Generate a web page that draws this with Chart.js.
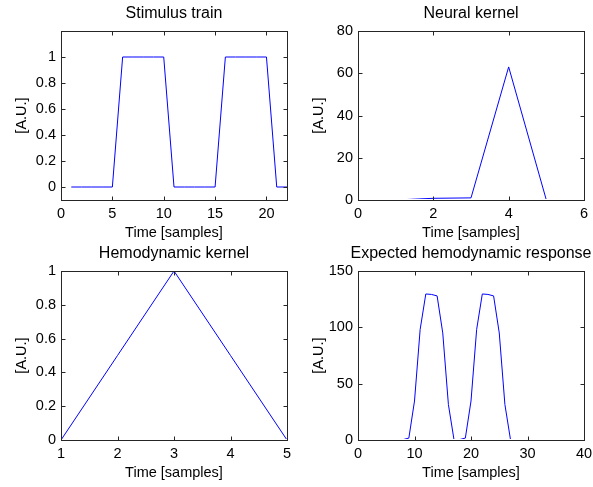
<!DOCTYPE html>
<html>
<head>
<meta charset="utf-8">
<script src="https://cdn.jsdelivr.net/npm/chart.js@4/dist/chart.umd.min.js"></script>
<style>
  html, body { margin: 0; padding: 0; background: #fff; }
  #wrap { position: relative; width: 593px; height: 487px; overflow: hidden; }
  canvas { position: absolute; }
</style>
</head>
<body>
<div id="wrap">
  <canvas id="stim" width="348" height="245" style="left:0;top:0"></canvas>
  <canvas id="neural" width="348" height="245" style="left:297px;top:0"></canvas>
  <canvas id="hemo" width="348" height="245" style="left:0;top:240px"></canvas>
  <canvas id="resp" width="348" height="245" style="left:297px;top:240px"></canvas>
</div>
<script>
// --------------------- Data ---------------------
const stimX = [1,2,3,4,5,6,7,8,9,10,11,12,13,14,15,16,17,18,19,20,21,22];
const stimY = [0,0,0,0,0,1,1,1,1,1,0,0,0,0,0,1,1,1,1,1,0,0];
const stimXTicks = [0,5,10,15,20];
const stimYTicks = [0,0.2,0.4,0.6,0.8,1];

const neuralX = [1,2,3,4,5];
const neuralY = [0,0.8,1,63,0];
const neuralXTicks = [0,2,4,6];
const neuralYTicks = [0,20,40,60,80];

const hemoX = [1,2,3,4,5];
const hemoY = [0,0.5,1,0.5,0];
const hemoXTicks = [1,2,3,4,5];
const hemoYTicks = [0,0.2,0.4,0.6,0.8,1];

const respX = [1,2,3,4,5,6,7,8,9,10,11,12,13,14,15,16,17,18,19,20,21,22,23,24,25,26,27,28,29,30];
const respY = [0,0,0,0,0,0,0,0.4,1.7,34.6,98.1,129.6,129.2,127.9,95,31.5,0,0.4,1.7,34.6,98.1,129.6,129.2,127.9,95,31.5,0,0,0,0];
const respXTicks = [0,10,20,30,40];
const respYTicks = [0,50,100,150];

// --------------------- Helpers ---------------------
const FONT = "'Liberation Sans', Arial, Helvetica, sans-serif";

// matlab-style box with inward ticks, drawn over the line
const boxPlugin = {
  id: 'matlabBox',
  afterDraw(chart) {
    const { ctx, chartArea: a, scales: { x, y } } = chart;
    const L = Math.floor(a.left) + 0.5, R = Math.floor(a.right) + 0.5;
    const T = Math.floor(a.top) + 0.5, B = Math.floor(a.bottom) + 0.5;
    ctx.save();
    ctx.strokeStyle = '#262626';
    ctx.lineWidth = 1;
    ctx.strokeRect(L, T, R - L, B - T);
    ctx.beginPath();
    x.ticks.forEach(t => {
      const px = Math.round(x.getPixelForValue(t.value)) + 0.5;
      ctx.moveTo(px, B); ctx.lineTo(px, B - 4);
      ctx.moveTo(px, T); ctx.lineTo(px, T + 4);
    });
    y.ticks.forEach(t => {
      const py = Math.round(y.getPixelForValue(t.value)) + 0.5;
      ctx.moveTo(L, py); ctx.lineTo(L + 4, py);
      ctx.moveTo(R, py); ctx.lineTo(R - 4, py);
    });
    ctx.stroke();
    ctx.restore();
  }
};

function noPad(s) { s.paddingLeft = 0; s.paddingRight = 0; s.paddingTop = 0; s.paddingBottom = 0; }

// canvas is 348 wide, plot area 61..287 (empty right axis keeps it symmetric),
// so the full-width title centres over the axes like matlab does
function makeChart(id, title, xs, ys, xRange, yRange, xTicks, yTicks) {
  return new Chart(document.getElementById(id), {
    type: 'line',
    data: {
      datasets: [{
        data: xs.map((v, i) => ({ x: v, y: ys[i] })),
        borderColor: '#0000ff',
        borderWidth: 1,
        pointRadius: 0,
        tension: 0,
        fill: false,
        clip: { left: 0, top: 0, right: 0, bottom: -1 }
      }]
    },
    options: {
      responsive: false,
      animation: false,
      devicePixelRatio: 1,
      layout: { padding: 0 },
      plugins: {
        legend: { display: false },
        tooltip: { enabled: false },
        title: {
          display: true, text: title, color: '#000',
          font: { family: FONT, size: 16, weight: 'normal' },
          padding: { top: 3.6, bottom: 8.2 }
        }
      },
      scales: {
        x: {
          type: 'linear', min: xRange[0], max: xRange[1],
          grid: { display: false, drawTicks: false },
          border: { display: false },
          ticks: { color: '#000', padding: 5, maxRotation: 0, font: { family: FONT, size: 14.5 }, callback: v => String(v) },
          title: { display: true, text: 'Time [samples]', color: '#000', font: { family: FONT, size: 14.5 }, padding: { top: 0, bottom: 3.3 } },
          afterBuildTicks: s => { s.ticks = xTicks.map(v => ({ value: v })); },
          afterFit: s => { s.height = 45; noPad(s); }
        },
        y: {
          type: 'linear', min: yRange[0], max: yRange[1],
          grid: { display: false, drawTicks: false },
          border: { display: false },
          ticks: { color: '#000', padding: 5, font: { family: FONT, size: 14.5 }, callback: v => String(v) },
          title: { display: true, text: '[A.U.]', color: '#000', font: { family: FONT, size: 14.5 }, padding: { top: 13.3, bottom: 0 } },
          afterBuildTicks: s => { s.ticks = yTicks.map(v => ({ value: v })); },
          afterFit: s => { s.width = 61; noPad(s); }
        },
        yRight: {
          type: 'linear', position: 'right', min: yRange[0], max: yRange[1],
          grid: { display: false, drawTicks: false },
          border: { display: false },
          ticks: { display: false },
          afterFit: s => { s.width = 61; noPad(s); }
        }
      }
    },
    plugins: [boxPlugin]
  });
}

// --------------------- Init ---------------------
makeChart('stim', 'Stimulus train', stimX, stimY, [0, 22], [-0.1, 1.2], stimXTicks, stimYTicks);
makeChart('neural', 'Neural kernel', neuralX, neuralY, [0, 6], [0, 80], neuralXTicks, neuralYTicks);
makeChart('hemo', 'Hemodynamic kernel', hemoX, hemoY, [1, 5], [0, 1], hemoXTicks, hemoYTicks);
makeChart('resp', 'Expected hemodynamic response', respX, respY, [0, 40], [0, 150], respXTicks, respYTicks);
</script>
</body>
</html>
